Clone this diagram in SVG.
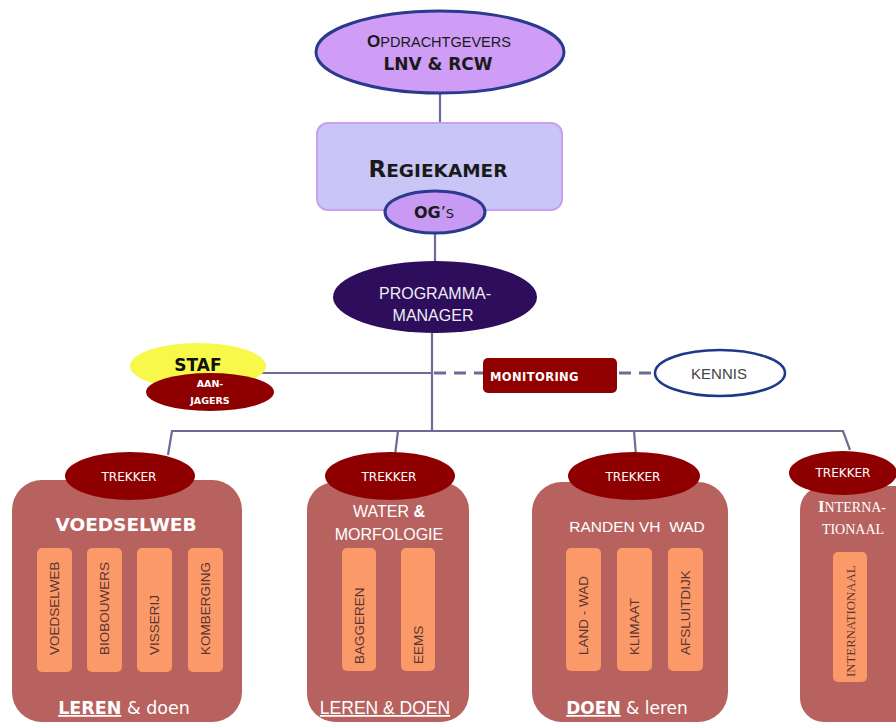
<svg xmlns="http://www.w3.org/2000/svg" width="896" height="722" viewBox="0 0 896 722">
<style>
.ln{stroke:#6b6c96;stroke-width:2.2;fill:none}
.dash{stroke:#6b6c96;stroke-width:3;fill:none;stroke-dasharray:12,8}
.box{fill:#b7625f}
.bar{fill:#fb9a68}
.trk{fill:#8e0000}
.tt{font-family:"DejaVu Sans",sans-serif;font-size:12px;fill:#fff;text-anchor:middle}
.bt{font-family:"Liberation Sans",Arial,sans-serif;font-size:13.5px;fill:#5a3434}
.sans{font-family:"Liberation Sans",Arial,sans-serif}
.dv{font-family:"DejaVu Sans",Verdana,sans-serif}
.serif{font-family:"Liberation Serif","Times New Roman",serif}
</style>
<rect width="896" height="722" fill="#fff"/>
<g id="connectors">
<line class="ln" x1="440" y1="94" x2="440" y2="122"/>
<line class="ln" x1="435" y1="233" x2="435" y2="262"/>
<line class="ln" x1="432" y1="333" x2="432" y2="431"/>
<line class="ln" x1="262" y1="373" x2="432" y2="373"/>
<line class="dash" x1="434" y1="373" x2="483" y2="373"/>
<line class="dash" x1="619" y1="373" x2="656" y2="373"/>
<polyline class="ln" points="168,455 172,431 843,431 850,450"/>
<line class="ln" x1="398" y1="431" x2="395" y2="455"/>
<line class="ln" x1="634" y1="431" x2="636" y2="455"/>
</g>
<g id="opdrachtgevers">
<ellipse cx="440" cy="52" rx="124" ry="41" fill="#cf9cf6" stroke="#2a3a8c" stroke-width="3"/>
<text x="439" y="47" text-anchor="middle" class="sans" font-size="14.5" fill="#1a1a1a"><tspan font-weight="bold" font-size="17">O</tspan>PDRACHTGEVERS</text>
<text x="438" y="70" text-anchor="middle" class="dv" font-weight="bold" font-size="17" fill="#1a1a1a">LNV &amp; RCW</text>
</g>
<g id="regiekamer">
<rect x="317" y="123" width="245" height="87" rx="11" fill="#c9c6f7" stroke="#c8a0f0" stroke-width="2"/>
<text x="438" y="177" text-anchor="middle" class="dv" font-weight="bold" font-size="18.5" fill="#1a1a1a"><tspan font-size="23">R</tspan>EGIEKAMER</text>
</g>
<g id="ogs">
<ellipse cx="435" cy="212" rx="50" ry="21" fill="#c99af3" stroke="#2a3a8c" stroke-width="3"/>
<text x="434" y="218" text-anchor="middle" class="dv" font-size="16" fill="#1a1a1a"><tspan font-weight="bold">OG</tspan>’<tspan font-size="13">S</tspan></text>
</g>
<g id="programmamanager">
<ellipse cx="435" cy="297" rx="102" ry="36" fill="#2e0d5c"/>
<text x="435" y="299" text-anchor="middle" class="sans" font-size="16" fill="#f0eef6">PROGRAMMA-</text>
<text x="433" y="321" text-anchor="middle" class="sans" font-size="16" fill="#f0eef6">MANAGER</text>
</g>
<g id="staf">
<ellipse cx="198" cy="366" rx="68" ry="23" fill="#f8f84a"/>
<ellipse cx="210" cy="392" rx="64" ry="19" fill="#8e0000"/>
<text x="198" y="371" text-anchor="middle" class="dv" font-weight="bold" font-size="17" fill="#111">STAF</text>
<text x="210" y="387" text-anchor="middle" class="dv" font-weight="bold" font-size="9.5" fill="#fff">AAN-</text>
<text x="210" y="404" text-anchor="middle" class="dv" font-weight="bold" font-size="9.5" fill="#fff">JAGERS</text>
</g>
<g id="monitoring">
<rect x="483" y="358" width="134" height="35" rx="5" fill="#910000"/>
<text x="490" y="381" class="dv" font-weight="bold" font-size="11.5" fill="#fff" letter-spacing="0.4">MONITORING</text>
</g>
<g id="kennis">
<ellipse cx="720" cy="373" rx="65" ry="23" fill="#fff" stroke="#1d3a8a" stroke-width="2.5"/>
<text x="719" y="379" text-anchor="middle" class="sans" font-size="15" fill="#444">KENNIS</text>
</g>
<g id="voedselweb">
<rect class="box" x="12" y="480" width="230" height="242" rx="30"/>
<ellipse class="trk" cx="130" cy="476" rx="65" ry="24"/>
<text class="tt" x="129" y="481">TREKKER</text>
<text x="126" y="531" text-anchor="middle" class="dv" font-weight="bold" font-size="18.5" fill="#fff">VOEDSELWEB</text>
<rect class="bar" x="37" y="548" width="35" height="124" rx="5"/>
<rect class="bar" x="87" y="548" width="35" height="124" rx="5"/>
<rect class="bar" x="137" y="548" width="35" height="124" rx="5"/>
<rect class="bar" x="188" y="548" width="35" height="124" rx="5"/>
<text class="bt" transform="translate(59,655) rotate(-90)">VOEDSELWEB</text>
<text class="bt" transform="translate(109,655) rotate(-90)">BIOBOUWERS</text>
<text class="bt" transform="translate(159,655) rotate(-90)">VISSERIJ</text>
<text class="bt" transform="translate(210,655) rotate(-90)">KOMBERGING</text>
<text x="124" y="714" text-anchor="middle" class="dv" font-size="17.5" fill="#fff"><tspan font-weight="bold" text-decoration="underline">LEREN</tspan> &amp; doen</text>
</g>
<g id="water-morfologie">
<rect class="box" x="307" y="482" width="162" height="240" rx="28"/>
<ellipse class="trk" cx="390" cy="476" rx="65" ry="24"/>
<text class="tt" x="389" y="481">TREKKER</text>
<text x="389" y="517" text-anchor="middle" class="sans" font-size="16" fill="#fff">WATER <tspan font-weight="bold">&amp;</tspan></text>
<text x="389" y="540" text-anchor="middle" class="sans" font-size="16" fill="#fff">MORFOLOGIE</text>
<rect class="bar" x="342" y="548" width="34" height="123" rx="5"/>
<rect class="bar" x="401" y="548" width="34" height="123" rx="5"/>
<text class="bt" transform="translate(364,664) rotate(-90)">BAGGEREN</text>
<text class="bt" transform="translate(423,664) rotate(-90)">EEMS</text>
<text x="385" y="714" text-anchor="middle" class="sans" font-size="17.5" fill="#fff" text-decoration="underline">LEREN &amp; DOEN</text>
</g>
<g id="randen-vh-wad">
<rect class="box" x="532" y="482" width="196" height="240" rx="30"/>
<ellipse class="trk" cx="634" cy="476" rx="66" ry="24"/>
<text class="tt" x="633" y="481">TREKKER</text>
<text x="637" y="532" text-anchor="middle" class="sans" font-size="15.5" fill="#fff" xml:space="preserve">RANDEN VH  WAD</text>
<rect class="bar" x="566" y="548" width="35" height="123" rx="5"/>
<rect class="bar" x="617" y="548" width="35" height="123" rx="5"/>
<rect class="bar" x="668" y="548" width="35" height="123" rx="5"/>
<text class="bt" transform="translate(588,655) rotate(-90)">LAND - WAD</text>
<text class="bt" transform="translate(639,655) rotate(-90)">KLIMAAT</text>
<text class="bt" transform="translate(690,655) rotate(-90)">AFSLUITDIJK</text>
<text x="627" y="714" text-anchor="middle" class="dv" font-size="17" fill="#fff"><tspan font-weight="bold" text-decoration="underline">DOEN</tspan> &amp; leren</text>
</g>
<g id="internationaal">
<rect class="box" x="800" y="486" width="120" height="236" rx="24"/>
<ellipse class="trk" cx="843" cy="473" rx="54" ry="22"/>
<text class="tt" x="843" y="477">TREKKER</text>
<text x="852" y="512" text-anchor="middle" class="serif" font-size="14" fill="#fff"><tspan font-weight="bold" font-size="17">I</tspan>NTERNA-</text>
<text x="853" y="534" text-anchor="middle" class="serif" font-size="14" fill="#fff">TIONAAL</text>
<rect class="bar" x="833" y="552" width="34" height="130" rx="5"/>
<text class="serif" font-size="12.8" fill="#5a3434" transform="translate(855,677) rotate(-90)">INTERNATIONAAL</text>
</g>
</svg>
